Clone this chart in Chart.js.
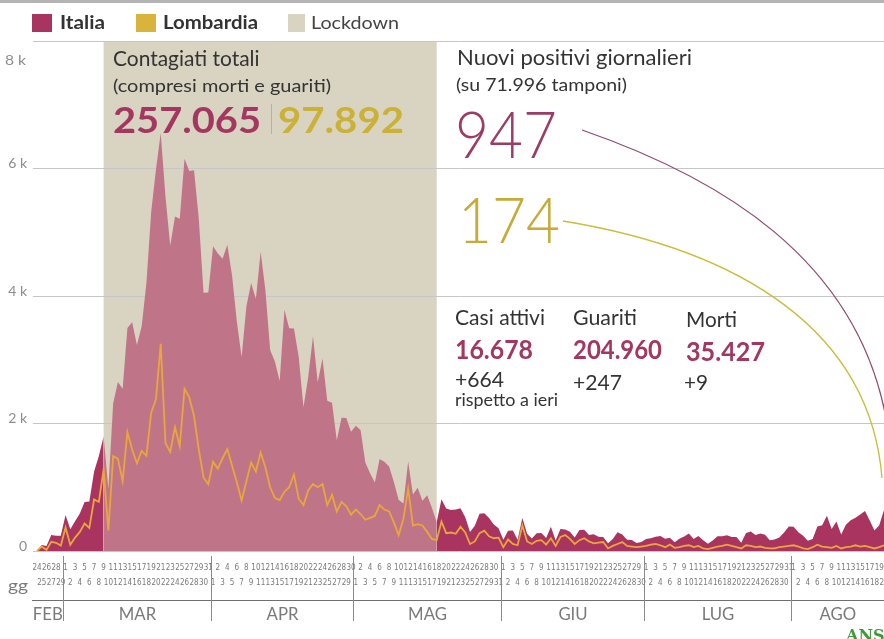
<!DOCTYPE html>
<html><head><meta charset="utf-8">
<script src="https://cdn.jsdelivr.net/npm/chart.js@4.4.1/dist/chart.umd.min.js"></script>
<style>html,body{margin:0;padding:0;background:#fff;overflow:hidden}canvas{display:block}</style>
</head><body>
<canvas id="c" width="884" height="639"></canvas>
<script>
// ---------------- DATA ----------------
const monthNames = ['FEB','MAR','APR','MAG','GIU','LUG','AGO'];
const monthLengths = [29,31,30,31,30,31,31];
const firstDay = 24; // 24 febbraio 2020
const lockdownStart = '2020-03-09';
const lockdownEnd = '2020-05-18';
// which parity of day goes on the upper tick row, per month
const topRowOdd = [false,true,false,false,true,true,true];
const yTicks = [0,2000,4000,6000,8000];

// Italia - nuovi positivi giornalieri
const italia = [
  0,93,78,250,238,240,
  566,342,466,587,769,778,1247,1492,1797,977,2313,2651,2547,3497,3590,3233,3526,4207,5322,5986,6557,5560,4789,5249,5210,6153,5959,5974,5217,4050,4053,
  4782,4668,4585,4805,4316,3599,3039,3836,4204,3951,4694,4092,3153,2972,2667,3786,3493,3491,3047,2256,2729,3370,2646,3021,2357,2324,1739,2091,2086,1872,
  1965,1900,1389,1221,1075,1444,1401,1327,1083,802,744,1402,888,992,789,875,675,451,813,665,642,652,669,531,300,397,584,593,516,416,355,
  178,318,321,177,518,270,197,280,283,202,379,163,346,338,301,210,329,333,251,262,224,218,122,190,296,259,175,174,126,142,
  187,201,223,235,192,208,138,193,229,276,188,234,169,114,163,230,233,249,219,218,129,282,306,252,275,255,170,181,212,289,386,
  379,295,239,159,190,384,402,552,347,463,259,412,481,523,574,629,479,320,403,642
];
// Lombardia - nuovi positivi giornalieri
const lombardia = [
  0,68,18,145,128,84,
  369,97,211,300,431,361,808,769,1280,322,1489,1445,1095,1865,1587,1377,1571,1493,2171,2380,3251,1691,1555,1942,1643,2543,2409,2117,1592,1154,1047,
  1400,1292,1455,1598,1337,1079,791,1089,1388,1246,1544,1311,1000,830,800,930,1000,1200,820,720,950,1050,1000,1050,720,880,620,770,700,570,
  650,580,490,520,550,720,650,620,450,250,500,980,400,420,400,300,190,170,460,280,290,270,380,290,110,150,280,320,230,200,210,
  60,180,110,90,400,150,110,160,170,100,200,80,220,250,190,110,170,200,150,120,130,140,40,80,110,140,80,70,60,70,
  80,100,110,90,60,100,50,60,80,90,60,80,40,30,50,70,80,100,80,60,40,90,80,60,70,50,40,40,60,70,80,
  90,70,40,30,60,100,70,60,50,80,40,60,70,90,70,80,60,40,60,90
];

// categories (dates) built from the calendar above
const categories = [], catMonth = [], catDay = [];
(function(){ let m = 0, d = firstDay;
  for (let i = 0; i < italia.length; i++) {
    categories.push('2020-' + String(m + 2).padStart(2,'0') + '-' + String(d).padStart(2,'0'));
    catMonth.push(m); catDay.push(d);
    d++; if (d > monthLengths[m]) { d = 1; m++; }
  }
})();
const lockStartIdx = categories.indexOf(lockdownStart);
const lockEndIdx = categories.indexOf(lockdownEnd);

// ---------------- STYLE ----------------
const MAGENTA = '#a8345f';
const PINK = '#bf7587';
const BEIGE = '#d9d4c1';
const YELLOW_LEG = '#d8b43c';
const LINE_YEL = '#e9a63c';
const NUM_MAG = '#a3375f';
const NUM_YEL = '#cbb137';
const TXT = '#333';
const FAM = 'Lato, "Open Sans", sans-serif';

function capText(ctx, str, x, y, cap, width, weight, color, align) {
  // draw text with a given cap height and (optionally) a given width
  const size = cap / 0.7165;
  ctx.save();
  ctx.font = weight + ' ' + size.toFixed(2) + 'px ' + FAM;
  ctx.fillStyle = color;
  ctx.textBaseline = 'alphabetic';
  ctx.textAlign = 'left';
  const m = ctx.measureText(str).width;
  const sx = width ? width / m : 1;
  let x0 = x;
  if (align === 'center') x0 = x - m * sx / 2;
  ctx.translate(x0, y);
  ctx.scale(sx, 1);
  ctx.fillText(str, 0, 0);
  ctx.restore();
}

const overlay = {
  id: 'overlay',
  beforeDraw(chart) {
    const {ctx, chartArea: a, scales: {x}} = chart;
    ctx.save();
    ctx.fillStyle = '#fff';
    ctx.fillRect(0, 0, chart.width, chart.height);
    const x0 = x.getPixelForValue(lockStartIdx);
    const x1 = x.getPixelForValue(lockEndIdx);
    ctx.fillStyle = BEIGE;
    ctx.fillRect(x0, a.top, x1 - x0, a.bottom - a.top);
    ctx.restore();
  },
  afterDatasetsDraw(chart) {
    const {ctx} = chart;
    ctx.save();
    ctx.lineWidth = 1.3;
    ctx.strokeStyle = '#8e4b70';
    ctx.beginPath(); ctx.moveTo(582, 130); ctx.bezierCurveTo(712, 175, 862, 256, 888, 430); ctx.stroke();
    ctx.strokeStyle = '#c9bd3c';
    ctx.beginPath(); ctx.moveTo(563, 221); ctx.bezierCurveTo(740, 250, 870, 330, 882, 478); ctx.stroke();
    ctx.restore();
  },
  afterDraw(chart) {
    const {ctx, chartArea: a, scales: {x}} = chart;
    ctx.save();
    // top band
    ctx.fillStyle = '#b4b4b4';
    ctx.fillRect(0, 0, chart.width, 3);
    // legend
    ctx.fillStyle = MAGENTA; ctx.fillRect(32, 14, 20, 18);
    ctx.fillStyle = YELLOW_LEG; ctx.fillRect(136, 14, 20, 18);
    ctx.fillStyle = BEIGE; ctx.fillRect(288, 14, 17, 18);
    capText(ctx, 'Italia', 60, 29, 13, 45, 700, TXT);
    capText(ctx, 'Lombardia', 163, 29, 13, 95, 700, TXT);
    capText(ctx, 'Lockdown', 311, 29, 13, 88, 400, '#444');
    // 8 k label
    capText(ctx, '8 k', 5, 65, 10, 21, 400, '#8c8c8c');

    // annotations - left block
    capText(ctx, 'Contagiati totali', 113, 66, 15, null, 400, TXT);
    capText(ctx, '(compresi morti e guariti)', 113, 92, 12, 218, 400, TXT);
    capText(ctx, '257.065', 113, 133, 26, 148, 700, NUM_MAG);
    ctx.strokeStyle = '#b5b09f'; ctx.lineWidth = 1;
    ctx.beginPath(); ctx.moveTo(271.5, 104); ctx.lineTo(271.5, 134); ctx.stroke();
    capText(ctx, '97.892', 278, 133, 26, 126, 700, NUM_YEL);
    // right block
    capText(ctx, 'Nuovi positivi giornalieri', 457, 65, 15, 235, 400, TXT);
    capText(ctx, '(su 71.996 tamponi)', 456, 91, 12, 171, 400, TXT);
    capText(ctx, '947', 455, 158, 46, 102, 300, '#9c3b63');
    capText(ctx, '174', 458, 243, 45, 102, 300, '#c9aa38');
    capText(ctx, 'Casi attivi', 455, 325, 15, 90, 400, TXT);
    capText(ctx, 'Guariti', 573, 325, 15, 64, 400, TXT);
    capText(ctx, 'Morti', 686, 327, 15, 51, 400, TXT);
    capText(ctx, '16.678', 455, 359, 19, 78, 700, NUM_MAG);
    capText(ctx, '204.960', 573, 359, 19, 89, 700, NUM_MAG);
    capText(ctx, '35.427', 686, 361, 19, 79, 700, NUM_MAG);
    capText(ctx, '+664', 455, 387, 15, 49, 400, TXT);
    capText(ctx, '+247', 573, 390, 15, 49, 400, TXT);
    capText(ctx, '+9', 684, 390, 15, 24, 400, TXT);
    capText(ctx, 'rispetto a ieri', 455, 406, 12, 103, 400, TXT);

    // month axis
    const step = x.getPixelForValue(1) - x.getPixelForValue(0);
    ctx.strokeStyle = '#6f6f6f'; ctx.lineWidth = 1;
    ctx.beginPath(); ctx.moveTo(32, 600.5); ctx.lineTo(chart.width, 600.5); ctx.stroke();
    ctx.strokeStyle = '#8a8a8a';
    const seps = [32];
    for (let i = 1; i < categories.length; i++) {
      if (catMonth[i] !== catMonth[i - 1]) {
        const px = Math.round(x.getPixelForValue(i) - step / 2) + 0.5;
        seps.push(px);
        ctx.beginPath(); ctx.moveTo(px, 556); ctx.lineTo(px, 621); ctx.stroke();
      }
    }
    seps.push(chart.width);
    for (let m = 0; m < monthNames.length; m++) {
      const cx = (seps[m] + seps[m + 1]) / 2;
      capText(ctx, monthNames[m], cx, 620, 12, null, 400, '#7a7a7a', 'center');
    }
    capText(ctx, 'gg', 8, 591, 11, 20, 400, '#7a7a7a');
    // agency mark
    ctx.font = 'bold 16px "DejaVu Serif", serif';
    ctx.fillStyle = '#3c9b33';
    ctx.textBaseline = 'alphabetic';
    ctx.fillText('ANSA', 846, 641);
    ctx.restore();
  }
};

new Chart(document.getElementById('c'), {
  type: 'line',
  data: {
    labels: categories,
    datasets: [
      { label: 'Lombardia', data: lombardia, borderColor: LINE_YEL, borderWidth: 1.8,
        pointRadius: 0, fill: false, tension: 0, order: 0 },
      { label: 'Italia', data: italia, borderColor: 'rgba(0,0,0,0)', borderWidth: 0,
        pointRadius: 0, fill: 'origin', backgroundColor: MAGENTA, tension: 0, order: 1,
        segment: {
          backgroundColor: c => (c.p0DataIndex >= lockStartIdx && c.p1DataIndex <= lockEndIdx) ? PINK : MAGENTA
        } }
    ]
  },
  options: {
    responsive: false, animation: false, devicePixelRatio: 1,
    layout: { padding: { top: 41, left: 0, right: 0, bottom: 0 } },
    plugins: { legend: { display: false }, tooltip: { enabled: false } },
    scales: {
      x: {
        type: 'category', offset: false,
        grid: { display: false, drawTicks: false }, border: { display: false },
        ticks: {
          autoSkip: false, maxRotation: 0, minRotation: 0, padding: 9, color: '#7a7a7a',
          font: { family: '"Liberation Sans Narrow", "DejaVu Sans Condensed", sans-serif', size: 8, lineHeight: 1.9 },
          callback: (v, i) => {
            const d = catDay[i];
            const onTop = (d % 2 === 1) === topRowOdd[catMonth[i]];
            return onTop ? [String(d), ''] : ['', String(d)];
          }
        },
        afterFit: s => { s.height = 88; s.paddingLeft = 0; s.paddingRight = 0; }
      },
      y: {
        min: 0, max: 8000,
        afterBuildTicks: s => { s.ticks = yTicks.map(v => ({ value: v })); },
        grid: { color: '#c6c6c6', lineWidth: 1, drawTicks: true, tickLength: 4 },
        border: { display: false },
        ticks: {
          padding: 6, labelOffset: -5, color: '#8c8c8c',
          font: { family: FAM, size: 14 },
          callback: v => v === 0 ? '0' : (v === 8000 ? '' : (v / 1000) + ' k')
        },
        afterFit: s => { s.width = 37; }
      }
    }
  },
  plugins: [overlay]
});
</script>
</body></html>
